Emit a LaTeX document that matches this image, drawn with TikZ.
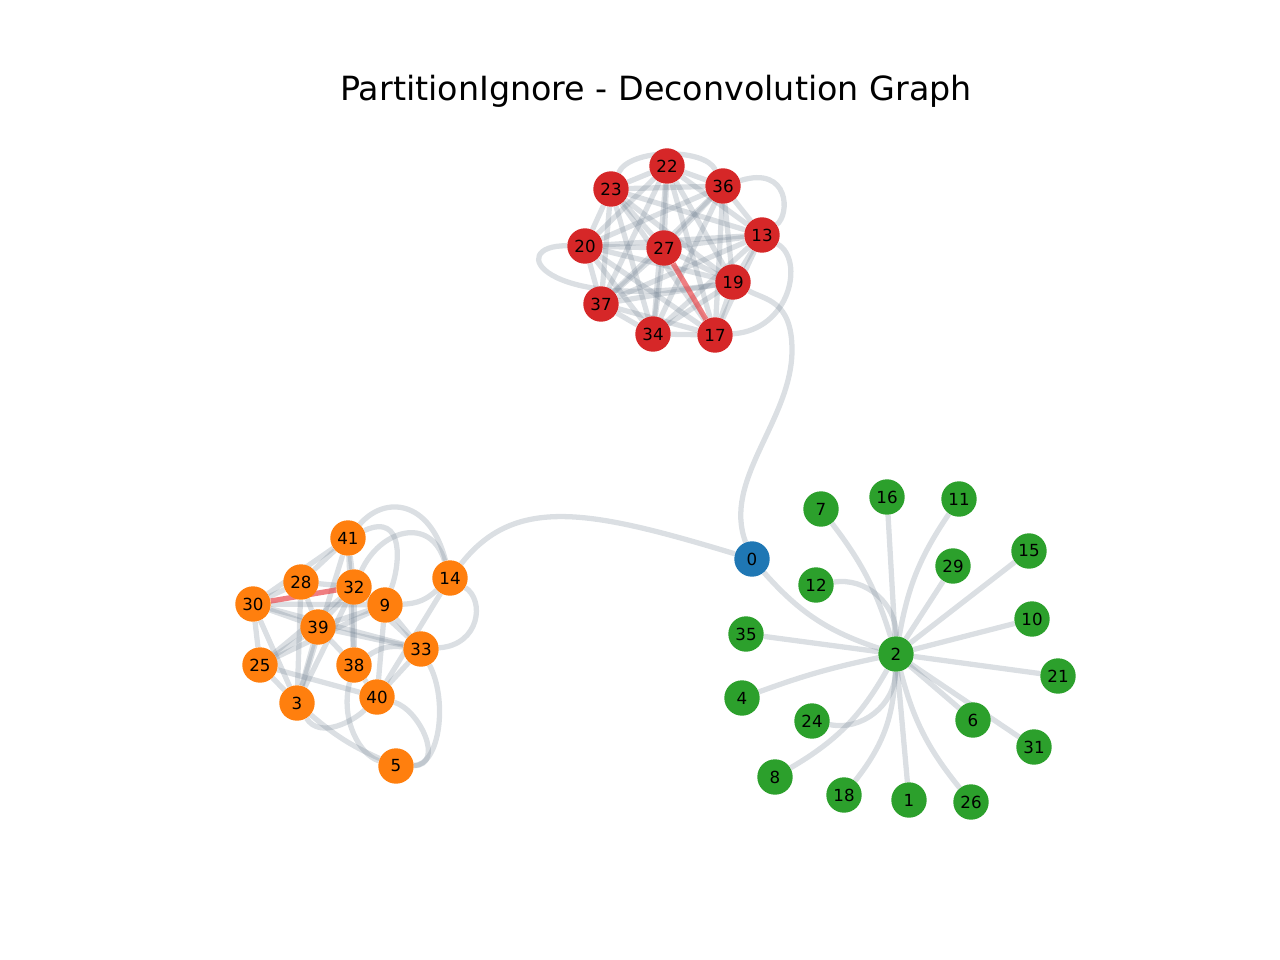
\documentclass[tikz,border=0pt]{standalone}
\usepackage{fontspec}
\setmainfont{DejaVu Sans}
\definecolor{tabred}{HTML}{D62728}
\definecolor{taborange}{HTML}{FF7F0E}
\definecolor{tabgreen}{HTML}{2CA02C}
\definecolor{tabblue}{HTML}{1F77B4}
\definecolor{edgecol}{HTML}{708090}
\definecolor{hotcol}{HTML}{E8474B}
\pgfdeclarelayer{edges}
\pgfsetlayers{edges,main}
\tikzset{
  vtx/.style={circle, inner sep=0pt, minimum size=25.5pt, font=\fontsize{12}{14}\selectfont},
  rn/.style={vtx, fill=tabred},
  on/.style={vtx, fill=taborange},
  gn/.style={vtx, fill=tabgreen},
  bn/.style={vtx, fill=tabblue},
  ed/.style={draw=edgecol, draw opacity=0.25, line width=3.8pt},
  hot/.style={draw=hotcol, draw opacity=0.7, line width=3.8pt},
}
\begin{document}
\begin{tikzpicture}[x=0.72pt, y=-0.72pt]
\useasboundingbox (0,0) rectangle (1280,960);
\node[anchor=base, font=\fontsize{24}{28}\selectfont] (title) at (656,100) {PartitionIgnore - Deconvolution Graph};
% red cluster
\node[rn] (n22) at (667,166) {22};
\node[rn] (n23) at (611,189) {23};
\node[rn] (n36) at (723,186) {36};
\node[rn] (n20) at (585,246) {20};
\node[rn] (n27) at (664,248) {27};
\node[rn] (n13) at (762,235) {13};
\node[rn] (n19) at (733,282) {19};
\node[rn] (n37) at (601,304) {37};
\node[rn] (n34) at (653,334) {34};
\node[rn] (n17) at (715,335) {17};
% orange cluster
\node[on] (n41) at (348,538) {41};
\node[on] (n28) at (301,582) {28};
\node[on] (n32) at (354,587) {32};
\node[on] (n30) at (253,604) {30};
\node[on] (n9) at (385,605) {9};
\node[on] (n14) at (450,578) {14};
\node[on] (n39) at (318,627) {39};
\node[on] (n25) at (260,665) {25};
\node[on] (n38) at (354,665) {38};
\node[on] (n33) at (421,649) {33};
\node[on] (n3) at (297,703) {3};
\node[on] (n40) at (377,697) {40};
\node[on] (n5) at (396,766) {5};
% blue
\node[bn] (n0) at (752,559) {0};
% green cluster
\node[gn] (n7) at (821,509) {7};
\node[gn] (n16) at (887,497) {16};
\node[gn] (n11) at (959,499) {11};
\node[gn] (n15) at (1029,551) {15};
\node[gn] (n29) at (953,566) {29};
\node[gn] (n12) at (816,585) {12};
\node[gn] (n10) at (1032,619) {10};
\node[gn] (n35) at (746,634) {35};
\node[gn] (n2) at (896,654) {2};
\node[gn] (n21) at (1058,676) {21};
\node[gn] (n4) at (742,698) {4};
\node[gn] (n24) at (812,721) {24};
\node[gn] (n6) at (973,720) {6};
\node[gn] (n31) at (1034,747) {31};
\node[gn] (n8) at (775,777) {8};
\node[gn] (n18) at (844,795) {18};
\node[gn] (n1) at (909,800) {1};
\node[gn] (n26) at (971,802) {26};

\begin{pgfonlayer}{edges}
% red cluster: dense
\foreach \a [count=\i] in {22,23,36,20,27,13,19,37,34,17}{
  \foreach \b [count=\j] in {22,23,36,20,27,13,19,37,34,17}{
    \ifnum\i<\j
      \ifnum\i=5 \ifnum\j=10 \else \path[ed] (n\a) -- (n\b); \fi
      \else \path[ed] (n\a) -- (n\b); \fi
    \fi
  }
}
\path[ed] (n20) .. controls (505,245) and (540,312) .. (n19);
\path[ed] (n23) .. controls (630,148) and (705,148) .. (n36);
\path[ed] (n36) .. controls (790,165) and (790,215) .. (n13);
\path[ed] (n13) .. controls (805,260) and (790,330) .. (n17);
\path[hot] (n27) -- (n17);
% link 0 - 19
\coordinate (c019) at (792,350);
\path[ed] (n0) .. controls (722,480) and (792,420) .. (c019) .. controls (792,300) and (765,300) .. (n19);
% link 0 - 14
\path[ed] (n14) .. controls (515,495) and (590,510) .. (n0);
% orange cluster
\foreach \a/\b in {30/28,30/39,30/25,30/3,30/33,30/41,30/9,
  28/41,28/3,28/39,28/32,
  32/41,32/9,32/39,32/38,32/33,32/3,32/25,
  41/3,41/38,
  9/39,9/25,9/33,9/40,
  39/33,39/38,39/25,39/3,
  25/3,25/40,
  38/40,33/40,14/40}{
  \path[ed] (n\a) -- (n\b);
}
\path[ed] (n38) to[bend left=20] (n33);
\path[ed] (n41) .. controls (385,495) and (430,500) .. (n14);
\path[ed] (n32) .. controls (380,530) and (430,515) .. (n14);
\path[ed] (n41) .. controls (405,512) and (400,565) .. (n9);
\path[ed] (n9) to[bend right=20] (n14);
\path[ed] (n14) .. controls (485,600) and (480,645) .. (n33);
\path[ed] (n33) .. controls (448,700) and (440,765) .. (n5);
\path[ed] (n40) .. controls (420,710) and (445,765) .. (n5);
\path[ed] (n38) .. controls (340,720) and (360,755) .. (n5);
\path[ed] (n3) .. controls (320,740) and (355,720) .. (n40);
\path[ed] (n3) to[bend right=8] (n5);
\path[hot] (n30) -- (n32);
% green star
\foreach \a in {16,29,15,10,21,6,31,1,35}{
  \path[ed] (n\a) -- (n2);
}
\path[ed] (n7) to[bend left=10] (n2);
\path[ed] (n11) to[bend right=12] (n2);
\path[ed] (n12) to[bend left=50] (n2);
\path[ed] (n24) to[bend right=50] (n2);
\path[ed] (n0) to[bend right=15] (n2);
\path[ed] (n8) to[bend right=15] (n2);
\path[ed] (n18) to[bend right=18] (n2);
\path[ed] (n26) to[bend left=12] (n2);
\path[ed] (n4) to[bend left=4] (n2);
\end{pgfonlayer}
\end{tikzpicture}
\end{document}
